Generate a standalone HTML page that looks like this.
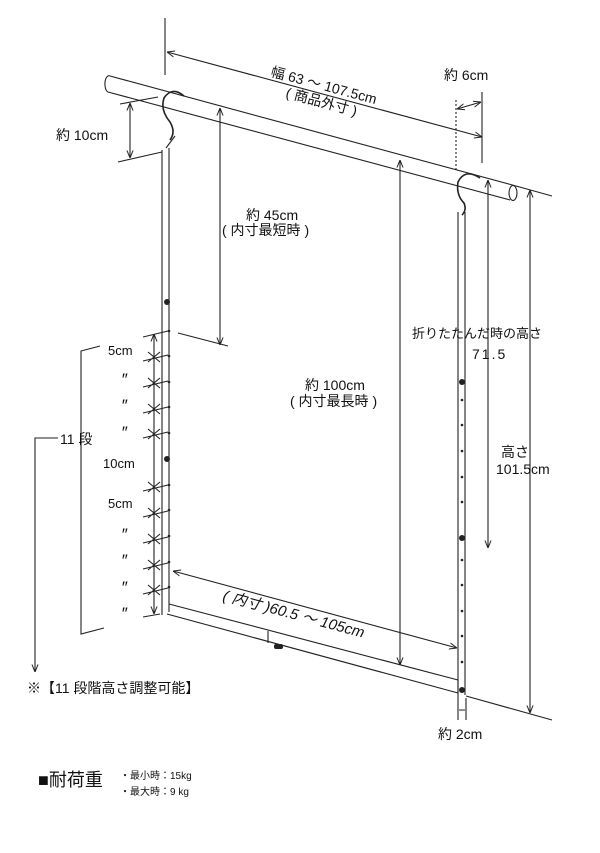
<!DOCTYPE html>
<html><head><meta charset="utf-8"><style>
html,body{margin:0;padding:0;background:#fff}
svg{display:block}
text{font-family:"Liberation Sans","Noto Sans CJK JP",sans-serif;fill:#111}
</style></head><body>
<svg width="600" height="853" viewBox="0 0 600 853" xmlns="http://www.w3.org/2000/svg">
<defs>
<marker id="a" viewBox="0 0 10 10" refX="10" refY="5" markerWidth="7" markerHeight="7" orient="auto-start-reverse"><path d="M0,1 L10,5 L0,9" fill="none" stroke="#222" stroke-width="1.3"/></marker>
</defs>
<g stroke="#222" stroke-width="1.1" fill="none">
<path d="M110,76 L516,186"/>
<path d="M108,92 L510,200"/>
<path d="M110,76 A4,8 0 0 0 108,92"/>
<ellipse cx="513" cy="193" rx="4" ry="7.5"/>
<path d="M516,186 L552,196"/>
<path d="M165,18 L165,75"/>
<path d="M167,52 L482,137" marker-start="url(#a)" marker-end="url(#a)"/>
<path d="M456,100 L456,172" stroke-dasharray="2,2"/>
<path d="M482,92 L482,163"/>
<path d="M457,109 L481,102" marker-start="url(#a)" marker-end="url(#a)"/>
<path d="M184,96 Q172,86 164,98 Q160,110 170,122 Q176,132 170,140" stroke-width="1.6"/>
<path d="M166,148 L175,136"/>
<path d="M480,178 Q465,168 458,182 Q456,195 464,203 Q467,210 462,215" stroke-width="1.6"/>
<path d="M120,104 L158,97"/>
<path d="M118,162 L162,152"/>
<path d="M130,103 L130,158" marker-start="url(#a)" marker-end="url(#a)"/>
<path d="M162,150 L162,615 M169,148 L169,612"/>
<path d="M458,212 L458,698 M465,212 L465,695"/>
<path d="M169,604 L458,680"/>
<path d="M167,614 L458,693"/>
<path d="M268,631 L268,643"/>
<path d="M458,680 L458,693"/>
<path d="M466,696 L552,720"/>
<path d="M220,108 L220,345" marker-start="url(#a)" marker-end="url(#a)"/>
<path d="M178,333 L228,346"/>
<path d="M400,160 L400,665" marker-start="url(#a)" marker-end="url(#a)"/>
<path d="M488,180 L488,548" marker-start="url(#a)" marker-end="url(#a)"/>
<path d="M530,190 L530,713" marker-start="url(#a)" marker-end="url(#a)"/>
<path d="M173,571 L457,648" marker-start="url(#a)" marker-end="url(#a)"/>
<path d="M458,698 L458,720 M466,698 L466,720 M459,710 L465,710"/>
<path d="M154,334 L154,614" marker-start="url(#a)" marker-end="url(#a)"/>
<path d="M143,337 L168,331"/>
<g>
<path d="M143,361 L168,355 M148,352 L160,362 M160,352 L148,362"/>
<path d="M143,387 L168,381 M148,378 L160,388 M160,378 L148,388"/>
<path d="M143,413 L168,407 M148,404 L160,414 M160,404 L148,414"/>
<path d="M143,438 L168,432 M148,429 L160,439 M160,429 L148,439"/>
<path d="M143,491 L168,485 M148,482 L160,492 M160,482 L148,492"/>
<path d="M143,517 L168,511 M148,508 L160,518 M160,508 L148,518"/>
<path d="M143,543 L168,537 M148,534 L160,544 M160,534 L148,544"/>
<path d="M143,569 L168,563 M148,560 L160,570 M160,560 L148,570"/>
<path d="M143,594 L168,588 M148,585 L160,595 M160,585 L148,595"/>
<path d="M143,617 L160,614"/>
</g>
<path d="M100,346 L81,351 L81,634 L104,628"/>
<path d="M58,438 L35,438 L35,672" marker-end="url(#a)"/>
</g>
<g fill="#222">
<circle cx="169" cy="331" r="1.3"/><circle cx="169" cy="356" r="1.3"/><circle cx="169" cy="382" r="1.3"/><circle cx="169" cy="407" r="1.3"/><circle cx="169" cy="433" r="1.3"/><circle cx="169" cy="485" r="1.3"/><circle cx="169" cy="510" r="1.3"/><circle cx="169" cy="536" r="1.3"/><circle cx="169" cy="562" r="1.3"/><circle cx="169" cy="587" r="1.3"/>
<circle cx="462" cy="400" r="1.3"/><circle cx="462" cy="425" r="1.3"/><circle cx="462" cy="451" r="1.3"/><circle cx="462" cy="477" r="1.3"/><circle cx="462" cy="502" r="1.3"/><circle cx="462" cy="560" r="1.3"/><circle cx="462" cy="585" r="1.3"/><circle cx="462" cy="611" r="1.3"/><circle cx="462" cy="636" r="1.3"/><circle cx="462" cy="662" r="1.3"/>
<circle cx="167" cy="302" r="3"/><circle cx="167" cy="459" r="3"/><circle cx="462" cy="382" r="3"/><circle cx="462" cy="538" r="3"/><circle cx="462" cy="690" r="3"/>
<rect x="274" y="644" width="9" height="5" rx="2"/>
</g>
<text x="270" y="76" font-size="14" transform="rotate(15 270 76)">幅 63 ～ 107.5cm</text>
<text x="285" y="97" font-size="14" transform="rotate(15 285 97)">( 商品外寸 )</text>
<text x="444" y="80" font-size="14">約 6cm</text>
<text x="56" y="140" font-size="14">約 10cm</text>
<text x="246" y="220" font-size="14">約 45cm</text>
<text x="222" y="235" font-size="14">( 内寸最短時 )</text>
<text x="412" y="338" font-size="13">折りたたんだ時の高さ</text>
<text x="472" y="359" font-size="14" letter-spacing="2">71.5</text>
<text x="305" y="390" font-size="14">約 100cm</text>
<text x="290" y="406" font-size="14">( 内寸最長時 )</text>
<text x="501" y="457" font-size="14">高さ</text>
<text x="496" y="474" font-size="14">101.5cm</text>
<text x="222" y="600" font-size="15" font-style="italic" transform="rotate(15 222 600)">( 内寸 )60.5 ～ 105cm</text>
<text x="438" y="739" font-size="14">約 2cm</text>
<text x="108" y="355" font-size="13">5cm</text>
<g font-size="17" font-style="italic">
<text x="121" y="385">″</text>
<text x="121" y="411">″</text>
<text x="121" y="438">″</text>
<text x="121" y="540">″</text>
<text x="121" y="566">″</text>
<text x="121" y="593">″</text>
<text x="121" y="619">″</text>
</g>
<text x="103" y="468" font-size="13">10cm</text>
<text x="108" y="508" font-size="13">5cm</text>
<text x="60" y="444" font-size="14">11 段</text>
<text x="27" y="693" font-size="14">※【11 段階高さ調整可能】</text>
<text x="38" y="786" font-size="18">■耐荷重</text>
<text x="120" y="779" font-size="10">・最小時：15kg</text>
<text x="120" y="795" font-size="10">・最大時：9 kg</text>
</svg>
</body></html>
